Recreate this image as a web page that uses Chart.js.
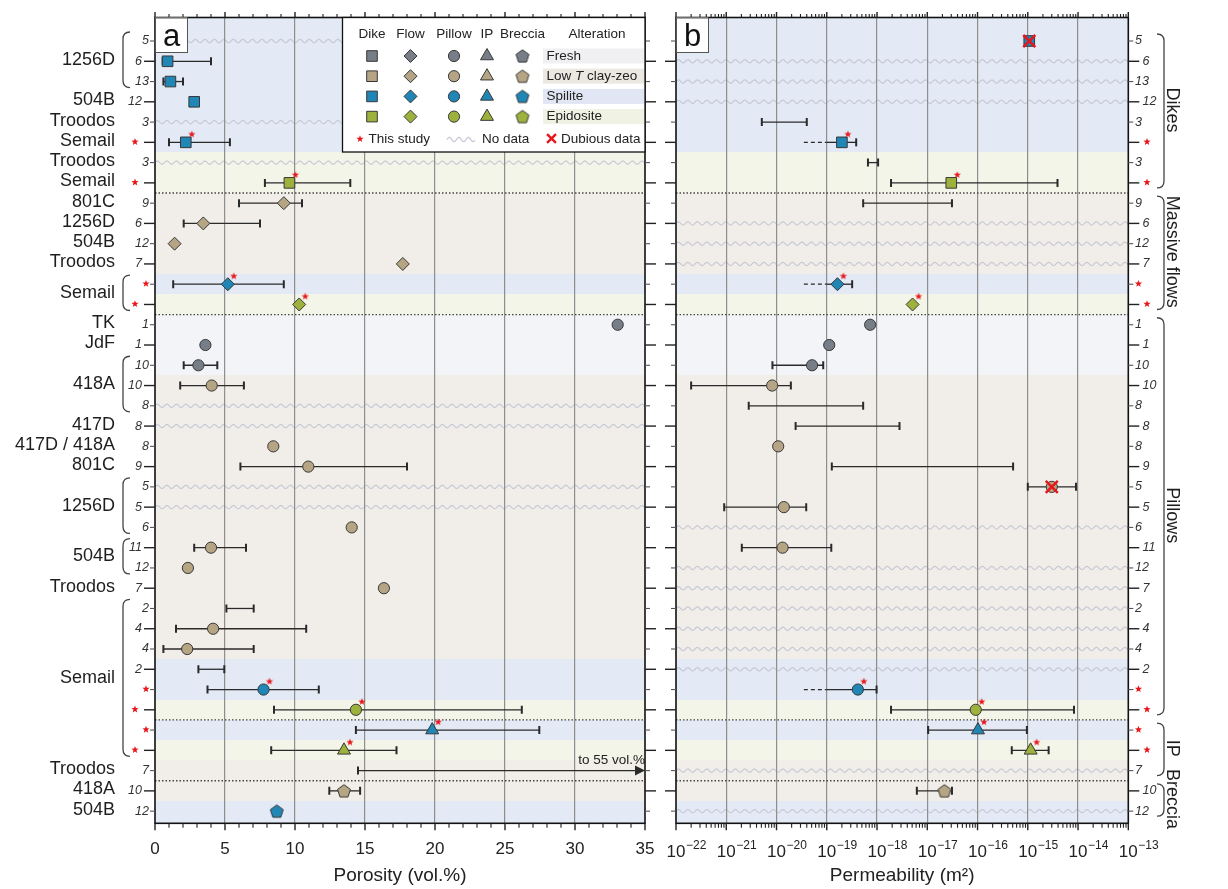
<!DOCTYPE html>
<html>
<head>
<meta charset="utf-8">
<script src="https://cdn.jsdelivr.net/npm/chart.js@4.4.1/dist/chart.umd.min.js"></script>
<style>
  body { margin: 0; background: #fff; }
  #wrap { position: relative; width: 1228px; height: 889px; }
  canvas { position: absolute; left: 0; top: 0; }
</style>
</head>
<body>
<div id="wrap">
  <canvas id="porosity-chart" width="1228" height="889"></canvas>
  <canvas id="permeability-chart" width="1228" height="889"></canvas>
</div>
<script>
  // ---- data (one entry per row, top to bottom) ----
  const sampleCounts = ['5', '6', '13', '12', '3', '*', '3', '*', '9', '6', '12', '7', '*', '*',
    '1', '1', '10', '10', '8', '8', '8', '9', '5', '5', '6', '11', '12', '7', '2', '4', '4', '2',
    '*', '*', '*', '*', '7', '10', '12'];

  // fr = fresh, lt = low T clay-zeo, sp = spilite, ep = epidosite
  const alteration = ['sp', 'sp', 'sp', 'sp', 'sp', 'sp', 'ep', 'ep', 'lt', 'lt', 'lt', 'lt', 'sp', 'ep',
    'fr', 'fr', 'fr', 'lt', 'lt', 'lt', 'lt', 'lt', 'lt', 'lt', 'lt', 'lt', 'lt', 'lt', 'lt', 'lt', 'lt',
    'sp', 'sp', 'ep', 'sp', 'ep', 'lt', 'lt', 'sp'];

  const sampleSites = [
    ['1256D', 1, 3], ['504B', 4, 4], ['Troodos', 5, 5], ['Semail', 6, 6], ['Troodos', 7, 7],
    ['Semail', 8, 8], ['801C', 9, 9], ['1256D', 10, 10], ['504B', 11, 11], ['Troodos', 12, 12],
    ['Semail', 13, 14], ['TK', 15, 15], ['JdF', 16, 16], ['418A', 17, 19], ['417D', 20, 20],
    ['417D / 418A', 21, 21], ['801C', 22, 22], ['1256D', 23, 25], ['504B', 26, 27],
    ['Troodos', 28, 28], ['Semail', 29, 36], ['Troodos', 37, 37], ['418A', 38, 38], ['504B', 39, 39],
  ];

  const rockTypes = [['Dikes', 1, 8], ['Massive flows', 9, 14], ['Pillows', 15, 34], ['IP', 35, 37], ['Breccia', 38, 39]];

  const porosity = [null, 0.9, 1.1, 2.8, null, 2.2, null, 9.6, 9.2, 3.45, 1.4, 17.7, 5.2, 10.3,
    33.05, 3.6, 3.1, 4.05, null, null, 8.45, 10.95, null, null, 14.05, 4.0, 2.35, 16.35, null, 4.15,
    2.3, null, 7.75, 14.35, 19.8, 13.5, null, 13.5, 8.7];
  const porosityLow = [null, 0.55, 0.6, null, null, 1.0, null, 7.85, 6.0, 2.05, null, null, 1.3, null,
    null, null, 2.05, 1.8, null, null, null, 6.1, null, null, null, 2.8, null, null, 5.1, 1.5,
    0.6, 3.1, 3.75, 8.5, 14.35, 8.3, 14.5, 12.45, null];
  const porosityHigh = [null, 4.0, 2.0, null, null, 5.35, null, 13.95, 10.5, 7.5, null, null, 9.2, null,
    null, null, 4.45, 6.35, null, null, null, 18.0, null, null, null, 6.5, null, null, 7.05, 10.8,
    7.05, 4.95, 11.7, 26.2, 27.45, 17.25, 55, 14.65, null];

  const permeability = [1.07e-15, null, null, null, null, 2.0e-19, null, 3.0e-17, null, null, null, null, 1.63e-19, 5.1e-18,
    7.3e-19, 1.12e-19, 5.1e-20, 8.2e-21, null, null, 1.08e-20, null, 3.0e-15, 1.4e-20, null, 1.32e-20, null, null,
    null, null, null, null, 4.15e-19, 9.2e-17, 1.02e-16, 1.14e-15, null, 2.2e-17, null];
  const permeabilityLow = [null, null, null, null, 5.1e-21, 1.0e-19, 6.6e-19, 1.9e-18, 5.3e-19, null, null, null, 1.0e-19, null,
    null, null, 8.3e-21, 2.0e-22, 2.8e-21, 2.4e-20, null, 1.26e-19, 1.0e-15, 9.1e-22, null, 2.04e-21, null, null,
    null, null, null, null, 1.0e-19, 1.9e-18, 1.04e-17, 4.8e-16, null, 6.2e-18, null];
  const permeabilityHigh = [null, null, null, null, 4.0e-20, 3.85e-19, 1.05e-18, 3.9e-15, 3.1e-17, null, null, null, 3.2e-19, null,
    null, null, 8.5e-20, 1.93e-20, 5.3e-19, 2.8e-18, null, 5.1e-16, 9.1e-15, 3.9e-20, null, 1.23e-19, null, null,
    null, null, null, null, 9.8e-19, 8.3e-15, 9.6e-16, 2.6e-15, null, 3.1e-17, null];
  // lower bound not constrained (dashed part)
  const permeabilityOpenLow = [null, null, null, null, null, 3.5e-20, null, null, null, null, null, null, 3.5e-20, null,
    null, null, null, null, null, null, null, null, null, null, null, null, null, null,
    null, null, null, null, 3.5e-20, null, null, null, null, null, null];
  const dubiousRows = [1, 23];

  const porosityTicks = [0, 5, 10, 15, 20, 25, 30, 35];
  const permeabilityTicks = [1e-22, 1e-21, 1e-20, 1e-19, 1e-18, 1e-17, 1e-16, 1e-15, 1e-14, 1e-13];

  // ---- styles ----
  const FONT = "'Liberation Sans', Arial, Helvetica, sans-serif";
  Chart.defaults.font.family = FONT;
  Chart.defaults.color = '#222';

  const ALT_FILL = { fr: '#777e87', lt: '#b6a584', sp: '#1f86b6', ep: '#9db23c' };
  const ALT_BG = { fr: '#f3f4f7', lt: '#f1eee9', sp: '#e3e9f5', ep: '#f3f5e9' };
  const EDGE = '#383838';
  const BAR = '#2a2a2a';
  const GRID = '#8e8e8e';
  const WAVE = '#c7c9d6';
  const RED = '#e8151b';
  const SHAPE = {
    'Dikes': { pointStyle: 'rect', radius: 7.5 },
    'Massive flows': { pointStyle: 'rectRot', radius: 6.5 },
    'Pillows': { pointStyle: 'circle', radius: 5.6 },
    'IP': { pointStyle: 'triangle', radius: 7.5 },
    'Breccia': { pointStyle: 'pentagon', radius: 6.8 },
  };

  const rowCount = sampleCounts.length;
  const altOf = r => alteration[r - 1];
  const typeOf = r => rockTypes.find(t => r >= t[1] && r <= t[2])[0];

  function starPath(ctx, cx, cy, R) {
    ctx.beginPath();
    for (let k = 0; k < 10; k++) {
      const ang = -Math.PI / 2 + k * Math.PI / 5;
      const rad = k % 2 ? R * 0.42 : R;
      ctx.lineTo(cx + rad * Math.cos(ang), cy + rad * Math.sin(ang));
    }
    ctx.closePath();
  }
  function drawStar(ctx, cx, cy, R = 3.8) {
    ctx.save();
    ctx.fillStyle = RED;
    starPath(ctx, cx, cy, R);
    ctx.fill();
    ctx.restore();
  }
  const STAR_IMG = (() => {
    const c = document.createElement('canvas');
    c.width = 30; c.height = 30;
    drawStar(c.getContext('2d'), 21, 7);
    return c;
  })();

  function makePentagon(fill, r) {
    const c = document.createElement('canvas');
    const s = Math.ceil(2 * r + 4);
    c.width = s; c.height = s;
    const g = c.getContext('2d');
    g.beginPath();
    for (let k = 0; k < 5; k++) {
      const ang = -Math.PI / 2 + k * 2 * Math.PI / 5;
      g.lineTo(s / 2 + r * Math.cos(ang), s / 2 + 0.6 + r * Math.sin(ang));
    }
    g.closePath();
    g.fillStyle = fill; g.fill();
    g.strokeStyle = EDGE; g.lineWidth = 1; g.stroke();
    return c;
  }
  const PENTAGON = {};
  Object.keys(ALT_FILL).forEach(k => { PENTAGON[k] = makePentagon(ALT_FILL[k], SHAPE.Breccia.radius); });

  const styleFor = r => {
    const s = SHAPE[typeOf(r)].pointStyle;
    return s === 'pentagon' ? PENTAGON[altOf(r)] : s;
  };

  function drawMarker(ctx, type, alt, x, y) {
    const s = SHAPE[type];
    ctx.save();
    ctx.fillStyle = ALT_FILL[alt];
    ctx.strokeStyle = EDGE;
    ctx.lineWidth = 1;
    const style = s.pointStyle === 'pentagon' ? PENTAGON[alt] : s.pointStyle;
    Chart.helpers.drawPoint(ctx, { pointStyle: style, radius: s.radius, rotation: 0, borderWidth: 1 }, x, y);
    ctx.restore();
  }

  // ---- drawing helpers ----
  const rowPx = (chart, r) => chart.scales.y.getPixelForValue(r);

  function wave(ctx, x0, x1, y, amp = 1.6, period = 9.5) {
    ctx.beginPath();
    for (let x = x0; x <= x1; x += 0.5) {
      const yy = y - amp * Math.sin((x - x0) / period * 2 * Math.PI);
      if (x === x0) ctx.moveTo(x, yy); else ctx.lineTo(x, yy);
    }
    ctx.stroke();
  }

  function paintRows(chart, values, lows) {
    const { ctx, chartArea: a } = chart;
    ctx.save();
    for (let r = 1; r <= rowCount; r++) {
      const y0 = r === 1 ? a.top : Math.round(rowPx(chart, r - 0.5));
      const y1 = r === rowCount ? a.bottom : Math.round(rowPx(chart, r + 0.5));
      ctx.fillStyle = ALT_BG[altOf(r)];
      ctx.fillRect(a.left, y0, a.width, y1 - y0);
    }
    ctx.strokeStyle = WAVE;
    ctx.lineWidth = 1.2;
    for (let r = 1; r <= rowCount; r++) {
      if (values[r - 1] == null && lows[r - 1] == null) wave(ctx, a.left, a.right, rowPx(chart, r));
    }
    ctx.restore();
  }

  function drawSeparators(chart) {
    const { ctx, chartArea: a } = chart;
    ctx.save();
    ctx.strokeStyle = '#444';
    ctx.lineWidth = 1.3;
    ctx.setLineDash([1.5, 2]);
    for (let i = 0; i < rockTypes.length - 1; i++) {
      const y = rowPx(chart, rockTypes[i][2] + 0.5);
      ctx.beginPath(); ctx.moveTo(a.left, y); ctx.lineTo(a.right, y); ctx.stroke();
    }
    ctx.restore();
  }

  function drawErrorBars(chart, lows, highs, openLows) {
    const { ctx, scales: { x, y } } = chart;
    ctx.save();
    ctx.strokeStyle = BAR;
    ctx.fillStyle = BAR;
    lows.forEach((lo, i) => {
      if (lo == null) return;
      const py = y.getPixelForValue(i + 1);
      const hi = highs[i];
      const clipped = hi > x.max;
      const x0 = x.getPixelForValue(lo);
      const x1 = x.getPixelForValue(clipped ? x.max : hi);
      const open = openLows && openLows[i] != null;
      ctx.lineWidth = 1.3;
      ctx.beginPath(); ctx.moveTo(x0, py); ctx.lineTo(clipped ? x1 - 8 : x1, py); ctx.stroke();
      if (open) {
        ctx.setLineDash([4, 3]);
        ctx.beginPath(); ctx.moveTo(x.getPixelForValue(openLows[i]), py); ctx.lineTo(x0, py); ctx.stroke();
        ctx.setLineDash([]);
      }
      ctx.lineWidth = 2;
      ctx.beginPath();
      if (!open) { ctx.moveTo(x0, py - 4); ctx.lineTo(x0, py + 4); }
      if (!clipped) { ctx.moveTo(x1, py - 4); ctx.lineTo(x1, py + 4); }
      ctx.stroke();
      if (clipped) {
        ctx.beginPath();
        ctx.moveTo(x1, py); ctx.lineTo(x1 - 10, py - 5); ctx.lineTo(x1 - 10, py + 5);
        ctx.closePath(); ctx.fill();
        ctx.font = '13.5px ' + FONT;
        ctx.textAlign = 'right';
        ctx.textBaseline = 'alphabetic';
        ctx.fillStyle = '#222';
        ctx.fillText('to ' + hi + ' vol.%', x1, py - 7);
        ctx.fillStyle = BAR;
      }
    });
    ctx.restore();
  }

  function drawFrame(chart) {
    const { ctx, chartArea: a } = chart;
    ctx.save();
    ctx.strokeStyle = '#111';
    ctx.lineWidth = 1.6;
    ctx.strokeRect(a.left, a.top, a.width, a.height);
    ctx.restore();
  }

  function drawRowTicks(chart, x0, dir) {
    const { ctx } = chart;
    ctx.save();
    for (let r = 1; r <= rowCount; r++) {
      const long = r % 2 === 0;
      const y = rowPx(chart, r);
      ctx.strokeStyle = long ? '#222' : '#555';
      ctx.lineWidth = long ? 1.4 : 1.1;
      ctx.beginPath(); ctx.moveTo(x0, y); ctx.lineTo(x0 + dir * (long ? 11 : 5), y); ctx.stroke();
    }
    ctx.restore();
  }

  function drawXTicks(chart, ticks) {
    const { ctx, chartArea: a, scales: { x } } = chart;
    ctx.save();
    ctx.strokeStyle = '#222';
    ticks.forEach(([v, major]) => {
      const px = x.getPixelForValue(v);
      ctx.lineWidth = major ? 1.4 : 1.1;
      ctx.beginPath();
      ctx.moveTo(px, a.top); ctx.lineTo(px, a.top - (major ? 5.5 : 3.5));
      ctx.moveTo(px, a.bottom); ctx.lineTo(px, a.bottom + (major ? 7 : 4.5));
      ctx.stroke();
    });
    ctx.restore();
  }

  function bracket(ctx, x, y0, y1, dir) {
    const k = 7;
    ctx.beginPath();
    ctx.moveTo(x + dir * k, y0);
    ctx.quadraticCurveTo(x, y0, x, y0 + k);
    ctx.lineTo(x, y1 - k);
    ctx.quadraticCurveTo(x, y1, x + dir * k, y1);
    ctx.stroke();
  }

  function drawPanelLetter(chart, letter) {
    const { ctx, chartArea: a } = chart;
    ctx.save();
    ctx.fillStyle = '#fff';
    ctx.strokeStyle = '#555';
    ctx.lineWidth = 1;
    ctx.fillRect(a.left, a.top, 32, 34.5);
    ctx.strokeRect(a.left + 0.5, a.top + 0.5, 32, 34.5);
    ctx.fillStyle = '#111';
    ctx.font = '31px ' + FONT;
    ctx.textAlign = 'center';
    ctx.textBaseline = 'alphabetic';
    ctx.fillText(letter, a.left + 16.5, a.top + 28);
    ctx.restore();
  }

  function drawCounts(ctx, chart, xOdd, xEven, align, starOdd, starEven) {
    ctx.save();
    ctx.font = 'italic 12.5px ' + FONT;
    ctx.fillStyle = '#333';
    ctx.textAlign = align;
    ctx.textBaseline = 'middle';
    sampleCounts.forEach((n, i) => {
      const r = i + 1;
      const y = rowPx(chart, r);
      if (n === '*') drawStar(ctx, r % 2 ? starOdd : starEven, y - 0.5);
      else ctx.fillText(n, r % 2 ? xOdd : xEven, y);
    });
    ctx.restore();
  }

  function drawLegend(chart) {
    const { ctx, chartArea: a } = chart;
    const L = 342.5, T = a.top, R = a.right, B = 152;
    ctx.save();
    ctx.fillStyle = '#fff';
    ctx.fillRect(L, T, R - L, B - T);
    ctx.strokeStyle = '#111';
    ctx.lineWidth = 1.3;
    ctx.strokeRect(L, T, R - L, B - T);

    ctx.font = '13.5px ' + FONT;
    ctx.fillStyle = '#222';
    ctx.textBaseline = 'middle';
    ctx.textAlign = 'center';
    const heads = ['Dike', 'Flow', 'Pillow', 'IP', 'Breccia'];
    const cols = [372, 410.5, 454, 487, 522.5];
    heads.forEach((h, i) => ctx.fillText(h, cols[i], 34.5));
    ctx.fillText('Alteration', 597, 34.5);

    const alts = ['fr', 'lt', 'sp', 'ep'];
    alts.forEach((alt, j) => {
      const yy = 56 + j * 20.2;
      ctx.fillStyle = ALT_BG[alt] === '#f3f4f7' ? '#f0f0f2' : ALT_BG[alt];
      if (alt === 'lt') ctx.fillStyle = '#ebe8e2';
      if (alt === 'sp') ctx.fillStyle = '#e0e6f3';
      if (alt === 'ep') ctx.fillStyle = '#f0f2e4';
      ctx.fillRect(543, yy - 7.5, R - 543 - 1, 15);
      rockTypes.forEach((t, i) => drawMarker(ctx, t[0], alt, cols[i], yy));
      ctx.fillStyle = '#222';
      ctx.textAlign = 'left';
      let xx = 546.5;
      if (alt === 'lt') {
        ctx.fillText('Low ', xx, yy); xx += ctx.measureText('Low ').width;
        ctx.font = 'italic 13.5px ' + FONT;
        ctx.fillText('T', xx, yy); xx += ctx.measureText('T').width;
        ctx.font = '13.5px ' + FONT;
        ctx.fillText(' clay-zeo', xx, yy);
      } else {
        ctx.fillText({ fr: 'Fresh', sp: 'Spilite', ep: 'Epidosite' }[alt], xx, yy);
      }
    });

    const yb = 139.5;
    drawStar(ctx, 360, yb - 0.5);
    ctx.fillStyle = '#222';
    ctx.textAlign = 'left';
    ctx.fillText('This study', 368.5, yb);
    ctx.strokeStyle = WAVE;
    ctx.lineWidth = 1.3;
    wave(ctx, 447, 475, yb, 2.2, 9.5);
    ctx.fillText('No data', 482, yb);
    ctx.strokeStyle = RED;
    ctx.lineWidth = 2.4;
    Chart.helpers.drawPoint(ctx, { pointStyle: 'crossRot', radius: 6.3, rotation: 0, borderWidth: 2.4 }, 551.5, yb - 1);
    ctx.fillText('Dubious data', 561, yb);
    ctx.restore();
  }

  // ---- plugins ----
  const porosityDecor = {
    id: 'porosityDecor',
    beforeDraw(chart) { paintRows(chart, porosity, porosityLow); },
    beforeDatasetsDraw(chart) {
      drawSeparators(chart);
      drawErrorBars(chart, porosityLow, porosityHigh, null);
    },
    afterDraw(chart) {
      const { ctx, chartArea: a, scales: { x } } = chart;
      drawFrame(chart);
      const ticks = [];
      for (let v = x.min; v <= x.max; v++) ticks.push([v, porosityTicks.includes(v)]);
      drawXTicks(chart, ticks);
      drawRowTicks(chart, a.left, -1);
      drawRowTicks(chart, a.right, 1);
      ctx.save();
      ctx.font = '18px ' + FONT;
      ctx.fillStyle = '#1e1e1e';
      ctx.textAlign = 'right';
      ctx.textBaseline = 'middle';
      ctx.strokeStyle = '#444';
      ctx.lineWidth = 1.3;
      sampleSites.forEach(([name, from, to]) => {
        const y0 = rowPx(chart, from), y1 = rowPx(chart, to);
        ctx.fillText(name, 115, (y0 + y1) / 2 - 1.5);
        if (to > from) bracket(ctx, 123, y0 - 9, y1 + 6, 1);
      });
      ctx.restore();
      drawCounts(ctx, chart, 149, 142, 'right', 146, 135);
      drawLegend(chart);
      drawPanelLetter(chart, 'a');
    },
  };

  const permeabilityDecor = {
    id: 'permeabilityDecor',
    beforeDraw(chart) { paintRows(chart, permeability, permeabilityLow); },
    beforeDatasetsDraw(chart) {
      drawSeparators(chart);
      drawErrorBars(chart, permeabilityLow, permeabilityHigh, permeabilityOpenLow);
    },
    afterDraw(chart) {
      const { ctx, chartArea: a, scales: { x } } = chart;
      drawFrame(chart);
      const ticks = [];
      permeabilityTicks.forEach((d, i) => {
        ticks.push([d, true]);
        if (i < permeabilityTicks.length - 1) for (let m = 2; m <= 9; m++) ticks.push([m * d, false]);
      });
      drawXTicks(chart, ticks);
      drawRowTicks(chart, a.left, -1);
      drawRowTicks(chart, a.right, 1);

      // tick labels 10^n
      ctx.save();
      ctx.fillStyle = '#222';
      ctx.textBaseline = 'alphabetic';
      permeabilityTicks.forEach(d => {
        const px = x.getPixelForValue(d);
        const e = Math.round(Math.log10(d));
        ctx.font = '17px ' + FONT;
        ctx.textAlign = 'center';
        ctx.fillText('10', px, 856.5);
        const w = ctx.measureText('10').width;
        ctx.font = '12px ' + FONT;
        ctx.textAlign = 'left';
        ctx.fillText((e < 0 ? '\u2212' : '') + Math.abs(e), px + w / 2 + 0.5, 848.5);
      });
      ctx.restore();

      drawCounts(ctx, chart, 1135, 1142.5, 'left', 1138.5, 1147);

      ctx.save();
      ctx.strokeStyle = '#444';
      ctx.lineWidth = 1.3;
      ctx.font = '18px ' + FONT;
      ctx.fillStyle = '#1e1e1e';
      ctx.textAlign = 'center';
      ctx.textBaseline = 'middle';
      rockTypes.forEach(([name, from, to]) => {
        const y0 = rowPx(chart, from), y1 = rowPx(chart, to);
        bracket(ctx, 1164, y0 - 7, y1 + 5, -1);
        ctx.save();
        ctx.translate(1172, (y0 + y1) / 2 - 2);
        ctx.rotate(Math.PI / 2);
        ctx.fillText(name, 0, 0);
        ctx.restore();
      });
      ctx.restore();
      drawPanelLetter(chart, 'b');
    },
  };

  // ---- datasets ----
  function markerDataset(values) {
    return {
      order: 2,
      data: values.map((v, i) => (v == null ? null : { x: v, y: i + 1 })).filter(Boolean),
      pointStyle: c => (c.raw ? styleFor(c.raw.y) : 'circle'),
      pointRadius: c => (c.raw ? SHAPE[typeOf(c.raw.y)].radius : 5),
      pointBackgroundColor: c => (c.raw ? ALT_FILL[altOf(c.raw.y)] : '#999'),
      pointBorderColor: EDGE,
      pointBorderWidth: 1,
    };
  }
  function starDataset(values) {
    return {
      order: 0,
      data: values.map((v, i) => (v != null && sampleCounts[i] === '*' ? { x: v, y: i + 1 } : null)).filter(Boolean),
      pointStyle: STAR_IMG,
      pointRadius: 5,
    };
  }

  const rowScale = { type: 'linear', reverse: true, min: -0.16, max: 39.6, display: false };
  const innerGrid = c => (c.tick && c.tick.value > c.scale.min * 1.0001 + 1e-40 && c.tick.value < c.scale.max * 0.9999 ? GRID : 'rgba(0,0,0,0)');

  new Chart(document.getElementById('porosity-chart'), {
    type: 'scatter',
    data: { datasets: [starDataset(porosity), markerDataset(porosity)] },
    options: {
      responsive: false,
      animation: false,
      devicePixelRatio: 1,
      events: [],
      layout: { padding: { left: 155, right: 583, top: 17.5, bottom: 0 } },
      plugins: { legend: { display: false }, tooltip: { enabled: false } },
      scales: {
        x: {
          type: 'linear', min: 0, max: 35, position: 'bottom',
          afterBuildTicks: s => { s.ticks = porosityTicks.map(v => ({ value: v })); },
          ticks: { font: { size: 17 }, color: '#222', padding: 16, maxRotation: 0, autoSkip: false },
          grid: { color: c => (c.tick && c.tick.value > 0 && c.tick.value < 35 ? GRID : 'rgba(0,0,0,0)'), lineWidth: 1.2, drawTicks: false },
          border: { display: false },
          title: { display: true, text: 'Porosity (vol.%)', font: { size: 19 }, color: '#222', padding: { top: 0, bottom: 2 } },
          afterFit: s => { s.height = 65.7; },
        },
        y: rowScale,
      },
    },
    plugins: [porosityDecor],
  });

  new Chart(document.getElementById('permeability-chart'), {
    type: 'scatter',
    data: {
      datasets: [
        {
          order: 0,
          data: dubiousRows.map(r => ({ x: permeability[r - 1], y: r })),
          pointStyle: 'crossRot',
          pointRadius: 8.5,
          pointBorderColor: RED,
          pointBorderWidth: 2.5,
        },
        starDataset(permeability),
        markerDataset(permeability),
      ],
    },
    options: {
      responsive: false,
      animation: false,
      devicePixelRatio: 1,
      events: [],
      layout: { padding: { left: 676, right: 99.7, top: 17.5, bottom: 0 } },
      plugins: { legend: { display: false }, tooltip: { enabled: false } },
      scales: {
        x: {
          type: 'logarithmic', min: 1e-22, max: 1e-13, position: 'bottom',
          afterBuildTicks: s => { s.ticks = permeabilityTicks.map(v => ({ value: v })); },
          ticks: { display: false },
          grid: { color: c => (c.tick && c.tick.value > 1.5e-22 && c.tick.value < 0.7e-13 ? GRID : 'rgba(0,0,0,0)'), lineWidth: 1.2, drawTicks: false },
          border: { display: false },
          title: { display: true, text: 'Permeability (m\u00b2)', font: { size: 19 }, color: '#222', padding: { top: 0, bottom: 2 } },
          afterFit: s => { s.height = 65.7; },
        },
        y: rowScale,
      },
    },
    plugins: [permeabilityDecor],
  });
</script>
</body>
</html>
